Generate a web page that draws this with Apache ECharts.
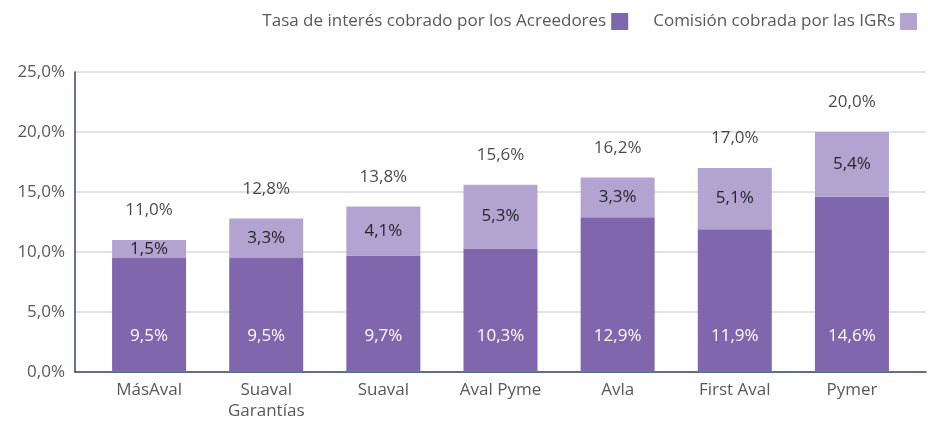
<!DOCTYPE html>
<html>
<head>
<meta charset="utf-8">
<script src="https://cdn.jsdelivr.net/npm/echarts@6/dist/echarts.min.js"></script>
<style>
  html, body { margin: 0; padding: 0; background: #fff; }
  #main { width: 928px; height: 422px; }
</style>
</head>
<body>
<div id="main"></div>
<script>
// datos
var categorias = ['MásAval', 'Suaval\nGarantías', 'Suaval', 'Aval Pyme', 'Avla', 'First Aval', 'Pymer'];
var tasaAcreedores = [9.5, 9.5, 9.7, 10.3, 12.9, 11.9, 14.6];
var comisionIGR = [1.5, 3.3, 4.1, 5.3, 3.3, 5.1, 5.4];
var totales = [11.0, 12.8, 13.8, 15.6, 16.2, 17.0, 20.0];
var ticksY = [0, 5, 10, 15, 20, 25];

var FUENTE = '"Open Sans", sans-serif';
var fmt = function (v) { return v.toFixed(1).replace('.', ',') + '%'; };

var myChart = echarts.init(document.getElementById('main'));
myChart.setOption({
  animation: false,
  textStyle: { fontFamily: FUENTE },
  legend: {
    right: 6,
    top: 8,
    align: 'right',
    itemWidth: 17,
    itemHeight: 17,
    itemGap: 25,
    icon: 'rect',
    textStyle: { fontSize: 17, color: '#595959', fontFamily: FUENTE },
    data: ['Tasa de interés cobrado por los Acreedores', 'Comisión cobrada por las IGRs']
  },
  grid: [
    // grid de fondo: líneas y ejes
    { left: 75, right: 2, top: 72, bottom: 50, outerBoundsMode: 'none' },
    // grid de barras
    { left: 90.5, right: 17.5, top: 72, bottom: 50, outerBoundsMode: 'none' }
  ],
  xAxis: [
    {
      gridIndex: 0,
      type: 'value',
      min: 0,
      max: 1,
      axisLine: { show: true, onZero: false, lineStyle: { color: '#2F4A6D', width: 1.5 } },
      axisTick: { show: false },
      axisLabel: { show: false },
      splitLine: { show: false }
    },
    {
      gridIndex: 1,
      type: 'category',
      data: categorias,
      axisTick: { show: false },
      axisLine: { show: false },
      axisLabel: { color: '#595959', fontSize: 17, lineHeight: 21, margin: 8, interval: 0 }
    }
  ],
  yAxis: [
    {
      gridIndex: 0,
      type: 'value',
      min: ticksY[0],
      max: ticksY[ticksY.length - 1],
      interval: 5,
      axisLine: { show: true, lineStyle: { color: '#2F4A6D', width: 1.5 } },
      axisTick: { show: false },
      splitLine: { lineStyle: { color: '#D9D9D9', width: 1.5 } },
      axisLabel: { color: '#595959', fontSize: 17, margin: 10, formatter: fmt }
    },
    {
      gridIndex: 1,
      type: 'value',
      min: 0,
      max: 25,
      interval: 5,
      show: false
    }
  ],
  series: [
    {
      name: 'Tasa de interés cobrado por los Acreedores',
      type: 'bar',
      stack: 'total',
      xAxisIndex: 1,
      yAxisIndex: 1,
      barWidth: 74,
      itemStyle: { color: '#7F66AD' },
      label: {
        show: true,
        position: 'insideBottom',
        distance: 27,
        color: '#ffffff',
        fontSize: 17,
        formatter: function (p) { return fmt(p.value); }
      },
      data: tasaAcreedores
    },
    {
      name: 'Comisión cobrada por las IGRs',
      type: 'bar',
      stack: 'total',
      xAxisIndex: 1,
      yAxisIndex: 1,
      barWidth: 74,
      itemStyle: { color: '#B3A3D1' },
      label: {
        show: true,
        position: 'inside',
        color: '#262626',
        fontSize: 17,
        formatter: function (p) { return fmt(p.value); }
      },
      data: comisionIGR
    },
    {
      name: 'totales',
      type: 'scatter',
      xAxisIndex: 1,
      yAxisIndex: 1,
      symbolSize: 0,
      silent: true,
      label: {
        show: true,
        position: 'top',
        distance: 21,
        color: '#1a1a1a',
        fontSize: 17,
        formatter: function (p) { return fmt(p.value); }
      },
      data: totales
    }
  ]
});
</script>
</body>
</html>
